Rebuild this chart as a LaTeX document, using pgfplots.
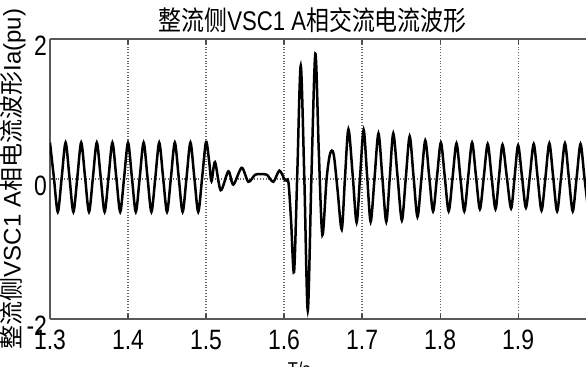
\documentclass[border=0pt]{standalone}
\usepackage{fontspec}
\setmainfont{Liberation Sans}[FakeStretch=0.82]
\newfontfamily\cjk{Noto Sans CJK SC}[FakeStretch=0.85]
\newfontfamily\cjkplain{Noto Sans CJK SC}
\newfontfamily\latplain{Liberation Sans}
\usepackage{pgfplots}
\pgfplotsset{compat=1.18}
\pgfplotstableread{
t y
1.300 0.52
1.305 0.02
1.310 -0.47
1.315 0.02
1.320 0.52
1.325 0.02
1.330 -0.47
1.335 0.02
1.340 0.52
1.345 0.02
1.350 -0.47
1.355 0.02
1.360 0.52
1.365 0.02
1.370 -0.47
1.375 0.02
1.380 0.52
1.385 0.02
1.390 -0.47
1.395 0.02
1.400 0.52
1.405 0.02
1.410 -0.47
1.415 0.02
1.420 0.52
1.425 0.02
1.430 -0.47
1.435 0.02
1.440 0.52
1.445 0.02
1.450 -0.47
1.455 0.02
1.460 0.52
1.465 0.02
1.470 -0.47
1.475 0.02
1.480 0.52
1.485 0.02
1.490 -0.47
1.495 0.02
1.500 0.53
1.504 0.25
1.507 -0.03
1.5115 0.24
1.5188 -0.16
1.5286 0.11
1.535 -0.08
1.5457 0.16
1.5542 -0.04
1.5628 0.06
1.570 0.07
1.578 0.06
1.5863 -0.04
1.594 0.12
1.6013 -0.02
1.6055 -0.04
1.609 -0.60
1.6128 -1.33
1.617 0.10
1.6214 1.62
1.626 0.00
1.6304 -1.88
1.635 0.00
1.6401 1.79
1.6445 0.40
1.6491 -0.80
1.6545 0.00
1.659 0.36
1.6635 0.36
1.6685 -0.15
1.6739 -0.72
1.678 0.00
1.6825 0.71
1.688 0.05
1.693 -0.62
1.6975 0.05
1.702 0.70
1.7065 0.04
1.711 -0.61
1.716 0.02
1.721 0.65
1.726 0.02
1.731 -0.61
1.7355 0.02
1.740 0.65
1.7455 0.03
1.751 -0.59
1.756 0.01
1.761 0.61
1.766 0.03
1.771 -0.54
1.776 0.00
1.781 0.55
1.786 0.04
1.791 -0.46
1.796 0.03
1.801 0.52
1.806 0.03
1.811 -0.46
1.816 0.02
1.821 0.51
1.826 0.02
1.831 -0.46
1.836 0.03
1.841 0.52
1.846 0.04
1.851 -0.43
1.856 0.03
1.861 0.50
1.866 0.03
1.871 -0.43
1.8755 0.03
1.880 0.49
1.8855 0.03
1.891 -0.42
1.8955 0.03
1.900 0.48
1.905 0.03
1.910 -0.41
1.915 0.04
1.920 0.50
1.925 0.02
1.930 -0.45
1.935 0.02
1.940 0.51
1.945 0.02
1.950 -0.46
1.955 0.02
1.960 0.51
1.965 0.02
1.970 -0.46
1.975 0.02
1.980 0.50
1.985 0.02
1.990 -0.46
}\wave
\begin{document}
\begin{tikzpicture}
\begin{axis}[
  at={(0,0)}, anchor=south west,
  scale only axis, width=268pt, height=140pt,
  xmin=1.3, xmax=1.987, ymin=-2, ymax=2,
  axis x line*=box, axis y line*=left,
  xtick={1.3,1.4,1.5,1.6,1.7,1.8,1.9},
  ytick={-2,0,2},
  grid=major,
  major grid style={densely dotted, black!60, line width=0.6pt},
  tick align=inside, major tick length=2.5pt,
  tick style={black!70, line width=0.6pt},
  axis line style={black!65, line width=1pt},
  /pgf/number format/assume math mode=true,
  xticklabel style={font=\fontsize{14}{14}\selectfont, yshift=-2pt,
    /pgf/number format/fixed, /pgf/number format/precision=1},
  yticklabel style={font=\fontsize{14}{14}\selectfont, xshift=2pt, yshift=-3.5pt},
  every axis title shift=0pt,
  title={{\cjk 整流侧}VSC1 A{\cjk 相交流电流波形}},
  title style={at={(axis description cs:0.49,1)}, anchor=south, inner sep=0pt,
    yshift=3pt, font=\fontsize{13.5}{13.5}\selectfont},
  ylabel={{\cjkplain 整流侧}{\latplain VSC1 A}{\cjkplain 相电流波形}{\latplain Ia(pu)}},
  ylabel style={at={(axis description cs:-0.069,0.5)}, anchor=center,
    inner sep=0pt, font=\fontsize{12}{12}\selectfont},
  xlabel={T/s},
  xlabel style={at={(axis description cs:0.465,0)}, anchor=north, inner sep=0pt,
    yshift=-21.5pt, font=\fontsize{10}{10}\selectfont},
]
\addplot[black, line width=1.25pt, smooth, tension=0.5] table[x=t, y=y] {\wave};
\end{axis}
\pgfresetboundingbox
\path[use as bounding box] (-25pt,-24pt) rectangle (268pt,159.5pt);
\end{tikzpicture}
\end{document}
